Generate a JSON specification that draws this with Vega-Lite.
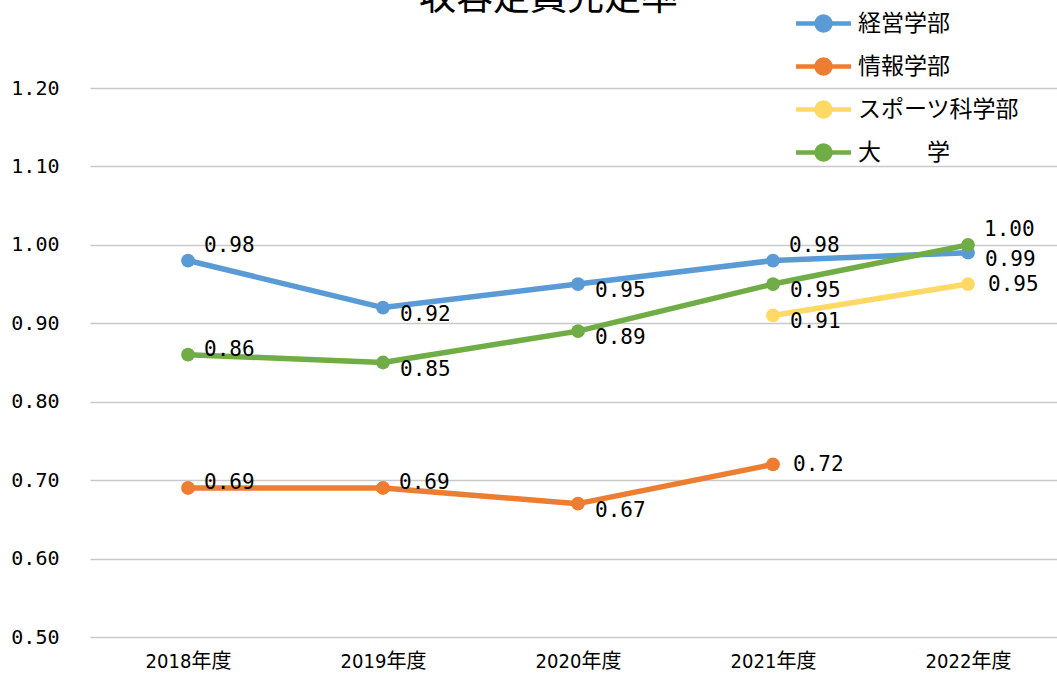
{
  "$schema": "https://vega.github.io/schema/vega-lite/v6.json",
  "width": 967,
  "height": 549,
  "autosize": "none",
  "padding": {"left": 90, "top": 88, "right": 0, "bottom": 44},
  "background": "white",
  "config": {"view": {"stroke": null}},
  "title": {
    "text": "収容定員充足率",
    "font": "Noto Sans CJK JP",
    "fontSize": 37,
    "fontWeight": "normal",
    "color": "#000000",
    "anchor": "middle",
    "dx": -25,
    "offset": -7
  },
  "data": {
    "values": [
      {"fy": 2018, "series": "経営学部", "rate": 0.98},
      {"fy": 2019, "series": "経営学部", "rate": 0.92},
      {"fy": 2020, "series": "経営学部", "rate": 0.95},
      {"fy": 2021, "series": "経営学部", "rate": 0.98},
      {"fy": 2022, "series": "経営学部", "rate": 0.99},
      {"fy": 2018, "series": "情報学部", "rate": 0.69},
      {"fy": 2019, "series": "情報学部", "rate": 0.69},
      {"fy": 2020, "series": "情報学部", "rate": 0.67},
      {"fy": 2021, "series": "情報学部", "rate": 0.72},
      {"fy": 2021, "series": "スポーツ科学部", "rate": 0.91},
      {"fy": 2022, "series": "スポーツ科学部", "rate": 0.95},
      {"fy": 2018, "series": "大　　学", "rate": 0.86},
      {"fy": 2019, "series": "大　　学", "rate": 0.85},
      {"fy": 2020, "series": "大　　学", "rate": 0.89},
      {"fy": 2021, "series": "大　　学", "rate": 0.95},
      {"fy": 2022, "series": "大　　学", "rate": 1.00}
    ]
  },
  "encoding": {
    "x": {
      "field": "fy",
      "type": "quantitative",
      "scale": {"domain": [2017.4974, 2022.4564], "nice": false, "zero": false},
      "axis": {
        "title": null,
        "values": [2018, 2019, 2020, 2021, 2022],
        "labelExpr": "datum.value + '年度'",
        "labelAngle": 0,
        "domain": false,
        "ticks": false,
        "tickSize": 0,
        "grid": false,
        "labelFont": "DejaVu Sans Condensed, Noto Sans CJK JP",
        "labelFontSize": 20,
        "labelColor": "#000000",
        "labelPadding": 14
      }
    },
    "y": {
      "field": "rate",
      "type": "quantitative",
      "scale": {"domain": [0.5, 1.2], "nice": false, "zero": false},
      "axis": {
        "title": null,
        "values": [0.5, 0.6, 0.7, 0.8, 0.9, 1.0, 1.1, 1.2],
        "format": ".2f",
        "domain": false,
        "ticks": false,
        "tickSize": 0,
        "grid": true,
        "gridColor": "#c9c9c9",
        "gridWidth": 1.5,
        "labelFont": "DejaVu Sans Mono",
        "labelFontSize": 20,
        "labelColor": "#000000",
        "labelPadding": 31
      }
    },
    "color": {
      "field": "series",
      "type": "nominal",
      "scale": {
        "domain": ["経営学部", "情報学部", "スポーツ科学部", "大　　学"],
        "range": ["#5B9BD5", "#ED7D31", "#FFD966", "#70AD47"]
      },
      "legend": {
        "title": null,
        "orient": "none",
        "legendX": 721,
        "legendY": -77,
        "padding": 0,
        "symbolType": "M-2.75,0H2.75M-0.7,0A0.7,0.7,0,1,1,0.7,0A0.7,0.7,0,1,1,-0.7,0Z",
        "symbolSize": 400,
        "symbolStrokeWidth": 4.5,
        "labelFont": "Noto Sans CJK JP",
        "labelFontSize": 23,
        "labelColor": "#000000",
        "labelOffset": 22,
        "rowPadding": 10,
        "labelLimit": 300,
        "encode": {
          "symbols": {
            "update": {
              "fill": {"scale": "color", "field": "value"},
              "stroke": {"scale": "color", "field": "value"},
              "fillOpacity": {"value": 1},
              "strokeOpacity": {"value": 1}
            }
          }
        }
      }
    }
  },
  "layer": [
    {
      "mark": {"type": "line", "strokeWidth": 5.5, "strokeCap": "round", "strokeJoin": "round"}
    },
    {
      "mark": {"type": "point", "filled": true, "size": 190, "opacity": 1}
    },
    {
      "transform": [{"filter": "(datum.series == '経営学部' && (datum.fy == 2018 || datum.fy == 2021)) || (datum.series == '大　　学' && datum.fy == 2022)"}],
      "mark": {"type": "text", "align": "left", "baseline": "middle", "dx": 16, "dy": -15, "font": "DejaVu Sans Mono", "fontSize": 21, "color": "#000000"},
      "encoding": {"text": {"field": "rate", "type": "quantitative", "format": ".2f"}, "color": {"value": "#000000"}}
    },
    {
      "transform": [{"filter": "(datum.series == '大　　学' && datum.fy == 2018) || (datum.series == '情報学部' && (datum.fy == 2018 || datum.fy == 2019))"}],
      "mark": {"type": "text", "align": "left", "baseline": "middle", "dx": 16, "dy": -5, "font": "DejaVu Sans Mono", "fontSize": 21, "color": "#000000"},
      "encoding": {"text": {"field": "rate", "type": "quantitative", "format": ".2f"}, "color": {"value": "#000000"}}
    },
    {
      "transform": [{"filter": "(datum.series == '情報学部' && datum.fy == 2021) || (datum.series == 'スポーツ科学部' && datum.fy == 2022)"}],
      "mark": {"type": "text", "align": "left", "baseline": "middle", "dx": 20, "dy": 1, "font": "DejaVu Sans Mono", "fontSize": 21, "color": "#000000"},
      "encoding": {"text": {"field": "rate", "type": "quantitative", "format": ".2f"}, "color": {"value": "#000000"}}
    },
    {
      "transform": [{"filter": "(datum.series == '経営学部' && datum.fy != 2018 && datum.fy != 2021) || (datum.series == '大　　学' && datum.fy != 2018 && datum.fy != 2022) || (datum.series == '情報学部' && datum.fy == 2020) || (datum.series == 'スポーツ科学部' && datum.fy == 2021)"}],
      "mark": {"type": "text", "align": "left", "baseline": "middle", "dx": 17, "dy": 7, "font": "DejaVu Sans Mono", "fontSize": 21, "color": "#000000"},
      "encoding": {"text": {"field": "rate", "type": "quantitative", "format": ".2f"}, "color": {"value": "#000000"}}
    }
  ]
}
